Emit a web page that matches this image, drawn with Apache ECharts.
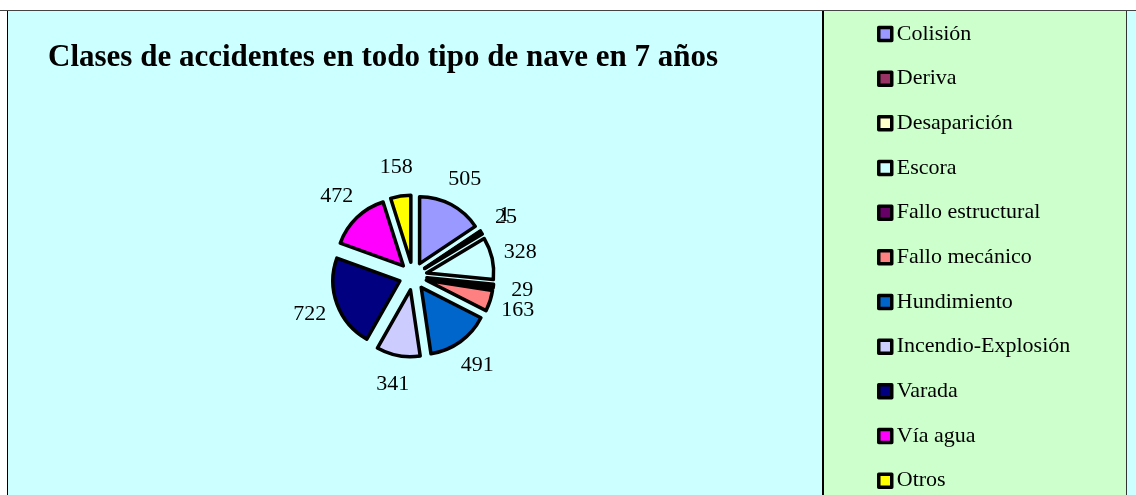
<!DOCTYPE html>
<html>
<head>
<meta charset="utf-8">
<script src="https://cdn.jsdelivr.net/npm/echarts@6/dist/echarts.min.js"></script>
<style>
  html, body { margin: 0; padding: 0; background: #fff; }
  #main { width: 1136px; height: 495px; }
</style>
</head>
<body>
<div id="main"></div>
<script>
// datos del grafico
var categorias = ['Colisión', 'Deriva', 'Desaparición', 'Escora', 'Fallo estructural',
    'Fallo mecánico', 'Hundimiento', 'Incendio-Explosión', 'Varada', 'Vía agua', 'Otros']
var valores = [505, 1, 25, 328, 29, 163, 491, 341, 722, 472, 158]
var colores = ['#9999FF', '#993366', '#FFFFCC', '#CCFFFF', '#660066',
    '#FF8080', '#0066CC', '#CCCCFF', '#000080', '#FF00FF', '#FFFF00']

var serif = '"Liberation Serif", "Times New Roman", serif'

var datos = categorias.map(function(c, i) {
    return { name: c, value: valores[i], selected: true, itemStyle: { color: colores[i] } }
})
// anillo invisible solo para colocar las etiquetas centradas
var datosEtiquetas = categorias.map(function(c, i) {
    return { name: c, value: valores[i] }
})

var myChart = echarts.init(document.querySelector('#main'))

var option = {
    backgroundColor: '#ffffff',
    animation: false,
    graphic: [
        // fondo del area del grafico
        { type: 'rect', silent: true, z: -10, shape: { x: 0, y: 10, width: 1136, height: 1 }, style: { fill: '#444' } },
        { type: 'rect', silent: true, z: -10, shape: { x: 7, y: 11, width: 1, height: 484 }, style: { fill: '#000' } },
        { type: 'rect', silent: true, z: -10, shape: { x: 8, y: 11, width: 814, height: 484 }, style: { fill: '#CCFFFF' } },
        { type: 'rect', silent: true, z: -10, shape: { x: 822, y: 11, width: 2, height: 484 }, style: { fill: '#000' } },
        { type: 'rect', silent: true, z: -10, shape: { x: 824, y: 11, width: 302, height: 484 }, style: { fill: '#CCFFCC' } },
        { type: 'rect', silent: true, z: -10, shape: { x: 1126, y: 11, width: 1, height: 484 }, style: { fill: '#333' } },
        { type: 'rect', silent: true, z: -10, shape: { x: 1127, y: 11, width: 9, height: 484 }, style: { fill: '#CCFFFF' } }
    ],
    title: {
        text: 'Clases de accidentes en todo tipo de nave en 7 años',
        left: 48,
        top: 42,
        padding: 0,
        textStyle: { fontFamily: serif, fontSize: 31, fontWeight: 'bold', color: '#000' }
    },
    legend: {
        orient: 'vertical',
        left: 877,
        top: 23,
        height: 472,
        padding: 0,
        itemWidth: 13,
        itemHeight: 13,
        itemGap: 22.67,
        icon: 'rect',
        selectedMode: false,
        itemStyle: { borderColor: '#000', borderWidth: 3.5 },
        textStyle: { fontFamily: serif, fontSize: 22, lineHeight: 22, color: '#000' },
        data: categorias
    },
    series: [
        {
            type: 'pie',
            center: [413, 276],
            radius: 67,
            startAngle: 90,
            clockwise: true,
            selectedMode: 'multiple',
            selectedOffset: 14,
            itemStyle: { borderColor: '#000', borderWidth: 3.5 },
            label: { show: false },
            labelLine: { show: false },
            emphasis: { disabled: true },
            data: datos
        },
        {
            type: 'pie',
            center: [413, 276],
            radius: [95, 119],
            startAngle: 90,
            clockwise: true,
            silent: true,
            z: 3,
            avoidLabelOverlap: false,
            itemStyle: { color: 'rgba(0,0,0,0)', borderWidth: 0 },
            label: {
                show: true,
                position: 'inside',
                formatter: '{c}',
                fontFamily: serif,
                fontSize: 22,
                color: '#000'
            },
            labelLayout: { hideOverlap: false },
            labelLine: { show: false },
            emphasis: { disabled: true },
            data: datosEtiquetas
        }
    ]
}

myChart.setOption(option)
</script>
</body>
</html>
